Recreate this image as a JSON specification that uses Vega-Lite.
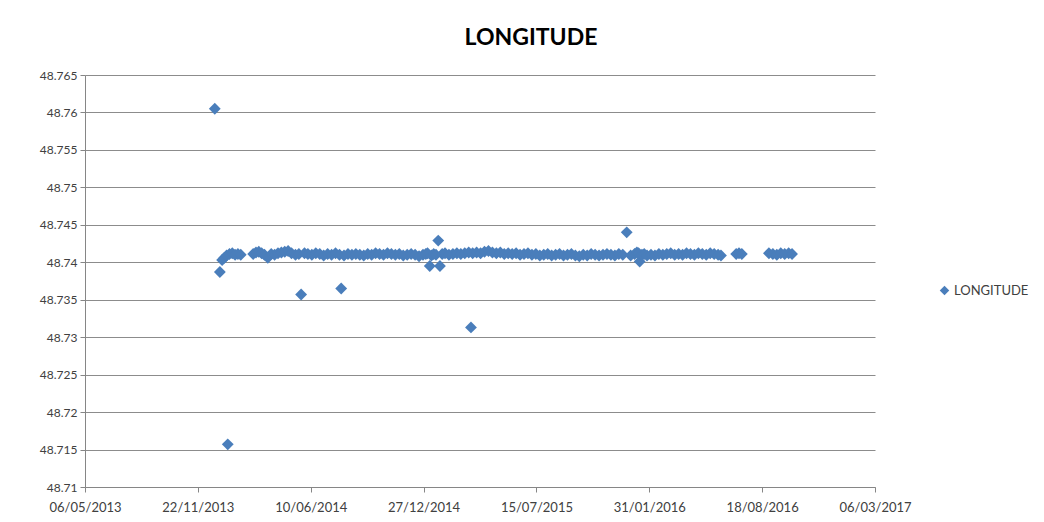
{
  "$schema": "https://vega.github.io/schema/vega-lite/v6.json",
  "width": 790,
  "height": 412,
  "autosize": {"type": "none"},
  "padding": {"left": 85, "top": 75, "right": 169, "bottom": 35},
  "background": "white",
  "title": {"text": "LONGITUDE", "font": "Lato", "fontSize": 23, "fontWeight": "bold", "color": "#000000", "anchor": "middle", "dx": 51, "offset": 19},
  "config": {"view": {"stroke": null}},
  "data": {"values": [
    {"date": "2013-12-22", "longitude": 48.7605},
    {"date": "2013-12-31", "longitude": 48.7387},
    {"date": "2014-01-14", "longitude": 48.7157},
    {"date": "2014-05-24", "longitude": 48.7357},
    {"date": "2014-08-03", "longitude": 48.7365},
    {"date": "2015-01-07", "longitude": 48.7395},
    {"date": "2015-01-22", "longitude": 48.7429},
    {"date": "2015-01-25", "longitude": 48.7395},
    {"date": "2015-03-21", "longitude": 48.7313},
    {"date": "2015-12-22", "longitude": 48.744},
    {"date": "2016-01-14", "longitude": 48.7401},
    {"date": "2014-01-04", "longitude": 48.7403},
    {"date": "2014-01-08", "longitude": 48.7406},
    {"date": "2014-01-12", "longitude": 48.7409},
    {"date": "2014-01-17", "longitude": 48.7411},
    {"date": "2014-01-22", "longitude": 48.7412},
    {"date": "2014-01-27", "longitude": 48.741},
    {"date": "2014-02-01", "longitude": 48.7411},
    {"date": "2014-02-06", "longitude": 48.741},
    {"date": "2014-02-28", "longitude": 48.7411},
    {"date": "2014-03-05", "longitude": 48.7413},
    {"date": "2014-03-10", "longitude": 48.7414},
    {"date": "2014-03-15", "longitude": 48.7412},
    {"date": "2014-03-20", "longitude": 48.741},
    {"date": "2014-03-26", "longitude": 48.7406},
    {"date": "2014-04-01", "longitude": 48.7411},
    {"date": "2014-04-07", "longitude": 48.741},
    {"date": "2014-04-13", "longitude": 48.7412},
    {"date": "2014-04-19", "longitude": 48.7413},
    {"date": "2014-04-25", "longitude": 48.7414},
    {"date": "2014-05-01", "longitude": 48.7415},
    {"date": "2014-05-07", "longitude": 48.7412},
    {"date": "2014-05-14", "longitude": 48.741},
    {"date": "2014-05-20", "longitude": 48.7411},
    {"date": "2014-05-30", "longitude": 48.7412},
    {"date": "2014-06-05", "longitude": 48.7411},
    {"date": "2014-06-12", "longitude": 48.741},
    {"date": "2014-06-19", "longitude": 48.7412},
    {"date": "2014-06-26", "longitude": 48.7411},
    {"date": "2014-07-03", "longitude": 48.7409},
    {"date": "2014-07-10", "longitude": 48.7411},
    {"date": "2014-07-17", "longitude": 48.741},
    {"date": "2014-07-24", "longitude": 48.7412},
    {"date": "2014-07-31", "longitude": 48.741},
    {"date": "2014-08-08", "longitude": 48.7409},
    {"date": "2014-08-15", "longitude": 48.7411},
    {"date": "2014-08-22", "longitude": 48.741},
    {"date": "2014-08-29", "longitude": 48.7411},
    {"date": "2014-09-05", "longitude": 48.741},
    {"date": "2014-09-12", "longitude": 48.7409},
    {"date": "2014-09-19", "longitude": 48.7411},
    {"date": "2014-09-26", "longitude": 48.741},
    {"date": "2014-10-03", "longitude": 48.7412},
    {"date": "2014-10-10", "longitude": 48.7411},
    {"date": "2014-10-17", "longitude": 48.741},
    {"date": "2014-10-24", "longitude": 48.7412},
    {"date": "2014-10-31", "longitude": 48.7411},
    {"date": "2014-11-07", "longitude": 48.741},
    {"date": "2014-11-14", "longitude": 48.7411},
    {"date": "2014-11-21", "longitude": 48.7409},
    {"date": "2014-11-28", "longitude": 48.741},
    {"date": "2014-12-05", "longitude": 48.7411},
    {"date": "2014-12-12", "longitude": 48.741},
    {"date": "2014-12-19", "longitude": 48.7408},
    {"date": "2014-12-26", "longitude": 48.741},
    {"date": "2014-12-31", "longitude": 48.7411},
    {"date": "2015-01-03", "longitude": 48.7412},
    {"date": "2015-01-10", "longitude": 48.7409},
    {"date": "2015-01-14", "longitude": 48.7411},
    {"date": "2015-01-18", "longitude": 48.741},
    {"date": "2015-01-29", "longitude": 48.7411},
    {"date": "2015-02-03", "longitude": 48.7412},
    {"date": "2015-02-10", "longitude": 48.741},
    {"date": "2015-02-17", "longitude": 48.7411},
    {"date": "2015-02-24", "longitude": 48.7412},
    {"date": "2015-03-03", "longitude": 48.7411},
    {"date": "2015-03-10", "longitude": 48.7412},
    {"date": "2015-03-17", "longitude": 48.7413},
    {"date": "2015-03-24", "longitude": 48.7412},
    {"date": "2015-03-31", "longitude": 48.7413},
    {"date": "2015-04-07", "longitude": 48.7412},
    {"date": "2015-04-14", "longitude": 48.7414},
    {"date": "2015-04-21", "longitude": 48.7415},
    {"date": "2015-04-28", "longitude": 48.7413},
    {"date": "2015-05-05", "longitude": 48.7412},
    {"date": "2015-05-12", "longitude": 48.7413},
    {"date": "2015-05-19", "longitude": 48.7411},
    {"date": "2015-05-26", "longitude": 48.7412},
    {"date": "2015-06-02", "longitude": 48.7411},
    {"date": "2015-06-09", "longitude": 48.7412},
    {"date": "2015-06-16", "longitude": 48.741},
    {"date": "2015-06-23", "longitude": 48.7411},
    {"date": "2015-06-30", "longitude": 48.7412},
    {"date": "2015-07-07", "longitude": 48.741},
    {"date": "2015-07-14", "longitude": 48.7411},
    {"date": "2015-07-21", "longitude": 48.7409},
    {"date": "2015-07-28", "longitude": 48.741},
    {"date": "2015-08-04", "longitude": 48.7411},
    {"date": "2015-08-11", "longitude": 48.7409},
    {"date": "2015-08-18", "longitude": 48.741},
    {"date": "2015-08-25", "longitude": 48.7411},
    {"date": "2015-09-01", "longitude": 48.7409},
    {"date": "2015-09-08", "longitude": 48.741},
    {"date": "2015-09-15", "longitude": 48.7411},
    {"date": "2015-09-22", "longitude": 48.7409},
    {"date": "2015-09-29", "longitude": 48.7408},
    {"date": "2015-10-06", "longitude": 48.741},
    {"date": "2015-10-13", "longitude": 48.7409},
    {"date": "2015-10-20", "longitude": 48.7411},
    {"date": "2015-10-27", "longitude": 48.741},
    {"date": "2015-11-03", "longitude": 48.7409},
    {"date": "2015-11-10", "longitude": 48.741},
    {"date": "2015-11-17", "longitude": 48.7411},
    {"date": "2015-11-24", "longitude": 48.741},
    {"date": "2015-12-01", "longitude": 48.7409},
    {"date": "2015-12-08", "longitude": 48.7411},
    {"date": "2015-12-15", "longitude": 48.741},
    {"date": "2015-12-29", "longitude": 48.7409},
    {"date": "2016-01-05", "longitude": 48.7411},
    {"date": "2016-01-09", "longitude": 48.7413},
    {"date": "2016-01-12", "longitude": 48.7412},
    {"date": "2016-01-18", "longitude": 48.741},
    {"date": "2016-01-22", "longitude": 48.7411},
    {"date": "2016-01-27", "longitude": 48.7409},
    {"date": "2016-02-03", "longitude": 48.741},
    {"date": "2016-02-10", "longitude": 48.7409},
    {"date": "2016-02-17", "longitude": 48.7411},
    {"date": "2016-02-24", "longitude": 48.741},
    {"date": "2016-03-02", "longitude": 48.7411},
    {"date": "2016-03-09", "longitude": 48.7412},
    {"date": "2016-03-16", "longitude": 48.741},
    {"date": "2016-03-23", "longitude": 48.7411},
    {"date": "2016-03-30", "longitude": 48.741},
    {"date": "2016-04-06", "longitude": 48.7412},
    {"date": "2016-04-13", "longitude": 48.7411},
    {"date": "2016-04-20", "longitude": 48.741},
    {"date": "2016-04-27", "longitude": 48.7412},
    {"date": "2016-05-04", "longitude": 48.7411},
    {"date": "2016-05-11", "longitude": 48.741},
    {"date": "2016-05-18", "longitude": 48.7412},
    {"date": "2016-05-25", "longitude": 48.7411},
    {"date": "2016-06-01", "longitude": 48.741},
    {"date": "2016-06-06", "longitude": 48.7409},
    {"date": "2016-07-03", "longitude": 48.7411},
    {"date": "2016-07-08", "longitude": 48.7412},
    {"date": "2016-07-13", "longitude": 48.7411},
    {"date": "2016-08-30", "longitude": 48.7412},
    {"date": "2016-09-06", "longitude": 48.7411},
    {"date": "2016-09-13", "longitude": 48.741},
    {"date": "2016-09-20", "longitude": 48.7412},
    {"date": "2016-09-27", "longitude": 48.7411},
    {"date": "2016-10-04", "longitude": 48.7412},
    {"date": "2016-10-10", "longitude": 48.7411}
  ]},
  "mark": {"type": "point", "shape": "diamond", "filled": true, "size": 140, "opacity": 1},
  "encoding": {
    "x": {
      "field": "date", "type": "temporal",
      "scale": {"type": "utc", "domain": [{"year": 2013, "month": 5, "date": 6, "utc": true}, {"year": 2017, "month": 3, "date": 6, "utc": true}], "nice": false},
      "axis": {
        "title": null,
        "values": [
          {"year": 2013, "month": 5, "date": 6, "utc": true},
          {"year": 2013, "month": 11, "date": 22, "utc": true},
          {"year": 2014, "month": 6, "date": 10, "utc": true},
          {"year": 2014, "month": 12, "date": 27, "utc": true},
          {"year": 2015, "month": 7, "date": 15, "utc": true},
          {"year": 2016, "month": 1, "date": 31, "utc": true},
          {"year": 2016, "month": 8, "date": 18, "utc": true},
          {"year": 2017, "month": 3, "date": 6, "utc": true}
        ],
        "labelExpr": "utcFormat(datum.value, '%d/%m/%Y')",
        "grid": false,
        "domainColor": "#868686", "tickColor": "#868686", "tickSize": 5,
        "labelFont": "Lato", "labelFontSize": 13, "labelColor": "#404040", "labelPadding": 9,
        "labelOverlap": false, "labelFlush": false
      }
    },
    "y": {
      "field": "longitude", "type": "quantitative",
      "scale": {"domain": [48.71, 48.765], "nice": false, "zero": false},
      "axis": {
        "title": null,
        "values": [48.71, 48.715, 48.72, 48.725, 48.73, 48.735, 48.74, 48.745, 48.75, 48.755, 48.76, 48.765],
        "format": ".3~f",
        "grid": true, "gridColor": "#8c8c8c", "gridWidth": 1,
        "domainColor": "#868686", "tickColor": "#868686", "tickSize": 5,
        "labelFont": "Lato", "labelFontSize": 12, "labelColor": "#404040", "labelPadding": 3,
        "labelOverlap": false, "labelFlush": false
      }
    },
    "color": {
      "datum": "LONGITUDE",
      "scale": {"range": ["#4A7EBB"]},
      "legend": {
        "title": null, "orient": "none", "legendX": 853, "legendY": 209,
        "symbolType": "diamond", "symbolSize": 90, "symbolOpacity": 1,
        "labelFont": "Lato", "labelFontSize": 13, "labelColor": "#404040", "labelOffset": 3
      }
    }
  }
}
